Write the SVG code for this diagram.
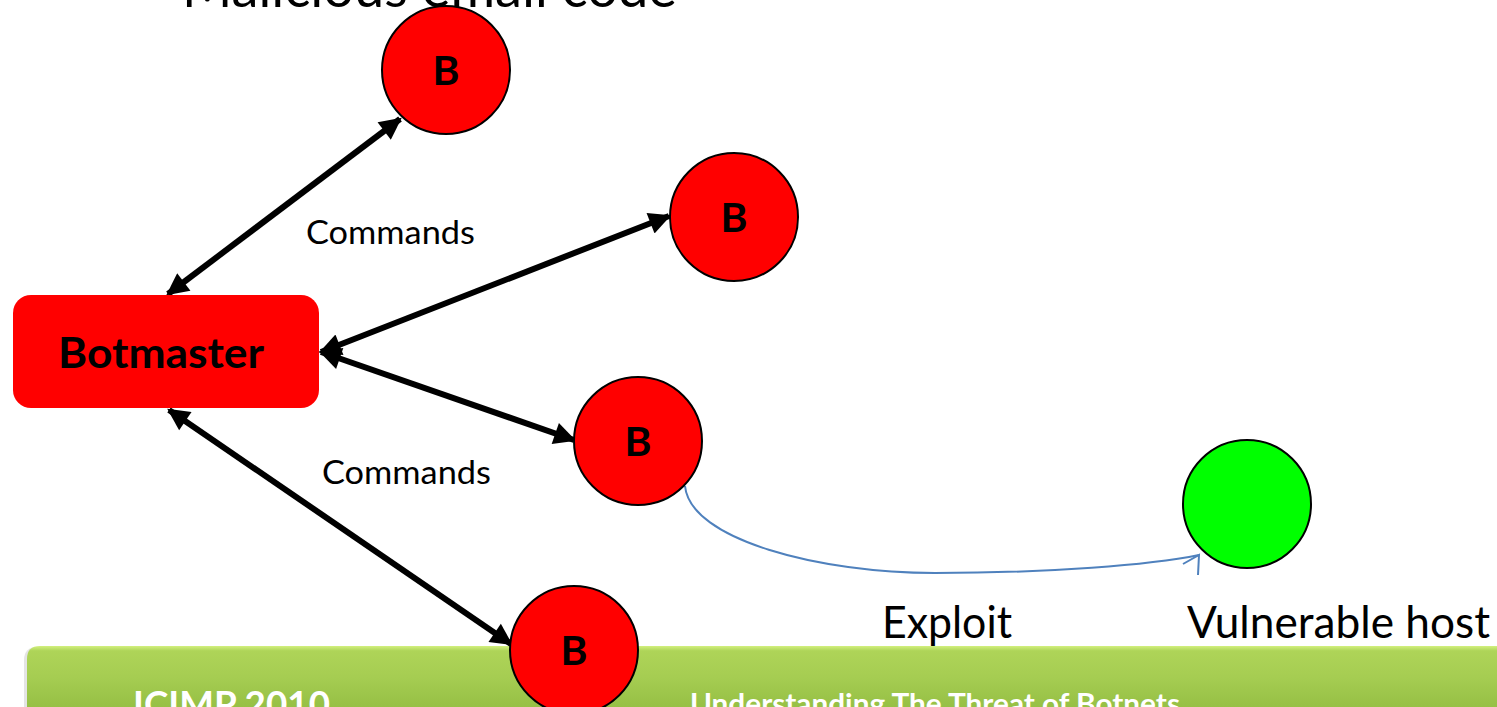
<svg xmlns="http://www.w3.org/2000/svg" width="1497" height="707" viewBox="0 0 1497 707">
  <style>
    .label { font-family: Lato, "Open Sans", sans-serif; fill: #000; }
    .big { font-size: 44.5px; }
    .cmd { font-size: 33px; }
    .bot { fill: #ff0000; stroke: #000; stroke-width: 2; }
    .host { fill: #00ff00; stroke: #000; stroke-width: 2; }
    .letter { font-family: Lato, "Open Sans", sans-serif; font-weight: bold; font-size: 41px; text-anchor: middle; fill: #000; }
    .link { stroke: #000; stroke-width: 6; fill: none; marker-start: url(#head); marker-end: url(#head); }
    .footer { font-family: Lato, "Open Sans", sans-serif; font-weight: bold; fill: #fff; }
  </style>
  <defs>
    <marker id="head" viewBox="0 0 10 10" refX="9" refY="5" markerWidth="26" markerHeight="22" markerUnits="userSpaceOnUse" orient="auto-start-reverse">
      <path d="M0,0 L10,5 L0,10 z" fill="#000"/>
    </marker>
    <linearGradient id="barFill" x1="0" y1="0" x2="0" y2="1">
      <stop offset="0" stop-color="#d2f07e"/>
      <stop offset="0.08" stop-color="#aed458"/>
      <stop offset="0.5" stop-color="#a6cd52"/>
      <stop offset="1" stop-color="#96c045"/>
    </linearGradient>
  </defs>

  <rect width="1497" height="707" fill="#fff"/>

  <!-- footer bar -->
  <g id="footer">
    <path d="M24,707 L24,660 Q24,647 38,647 L1497,647 L1497,707 z" fill="#c9c9c9" opacity="0.5"/>
    <path d="M27,707 L27,659 Q27,646 40,646 L1497,646 L1497,707 z" fill="url(#barFill)"/>
    <text class="footer" x="133" y="717" font-size="37" textLength="197" lengthAdjust="spacingAndGlyphs">ICIMP 2010</text>
    <text class="footer" x="690" y="714" font-size="29" textLength="490" lengthAdjust="spacingAndGlyphs">Understanding The Threat of Botnets</text>
  </g>

  <!-- title (partly above the top edge) -->
  <text class="label" x="182" y="7" font-size="54" textLength="495" lengthAdjust="spacingAndGlyphs">Malicious email code</text>

  <!-- connectors -->
  <g id="connectors">
    <line class="link" x1="168" y1="294" x2="400" y2="119"/>
    <line class="link" x1="321" y1="352" x2="669" y2="216"/>
    <line class="link" x1="321" y1="352" x2="574" y2="440"/>
    <line class="link" x1="169" y1="410" x2="511" y2="644"/>
    <g id="exploit-link" stroke="#4f81bd" stroke-width="2" fill="none">
      <path d="M685,486 C690,540 820,573 935,573 C1050,573 1150,565 1199,555"/>
      <path d="M1183,564 L1199,555 L1198,575"/>
    </g>
  </g>

  <!-- labels -->
  <text class="label cmd" x="306" y="244" textLength="169" lengthAdjust="spacingAndGlyphs">Commands</text>
  <text class="label cmd" x="322" y="484" textLength="169" lengthAdjust="spacingAndGlyphs">Commands</text>
  <text class="label big" x="882" y="638" textLength="130" lengthAdjust="spacingAndGlyphs">Exploit</text>
  <text class="label big" x="1187" y="638" textLength="303" lengthAdjust="spacingAndGlyphs">Vulnerable host</text>

  <!-- nodes -->
  <g id="botmaster">
    <rect x="13" y="295" width="306" height="113" rx="18" fill="#ff0000"/>
    <text x="161" y="368" font-family="Lato, 'Open Sans', sans-serif" font-weight="bold" font-size="42" text-anchor="middle" textLength="206" lengthAdjust="spacingAndGlyphs">Botmaster</text>
  </g>
  <g id="bot1">
    <circle class="bot" cx="446" cy="70" r="64"/>
    <text class="letter" x="446" y="85">B</text>
  </g>
  <g id="bot2">
    <circle class="bot" cx="734" cy="217" r="64"/>
    <text class="letter" x="734" y="232">B</text>
  </g>
  <g id="bot3">
    <circle class="bot" cx="638" cy="441" r="64"/>
    <text class="letter" x="638" y="456">B</text>
  </g>
  <g id="bot4">
    <circle class="bot" cx="574" cy="650" r="64"/>
    <text class="letter" x="574" y="665">B</text>
  </g>
  <g id="vulnerable-host">
    <circle class="host" cx="1247" cy="504" r="64"/>
  </g>
</svg>
